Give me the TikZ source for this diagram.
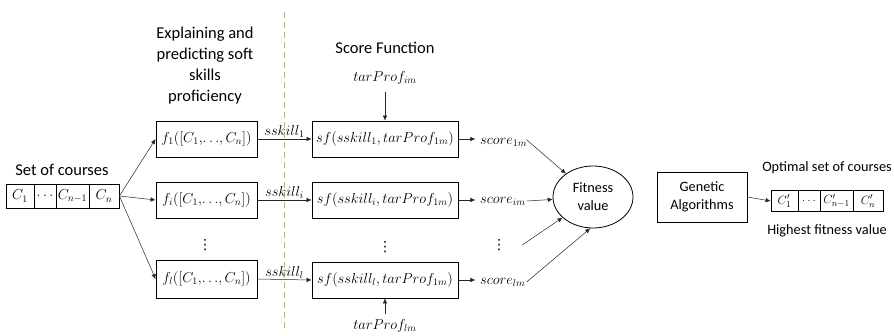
\documentclass[tikz,border=0pt]{standalone}
\usepackage{fontspec}
\setmainfont{Carlito}
\newfontfamily\djv{DejaVu Sans}
\usetikzlibrary{shapes.geometric,arrows.meta}
\begin{document}
\begin{tikzpicture}[x=1pt,y=-1pt,
  lbl/.style={font=\fontsize{16.5}{21}\selectfont, align=center, inner sep=0pt},
  slbl/.style={font=\fontsize{14.3}{18}\selectfont, align=center, inner sep=0pt},
  mth/.style={font=\fontsize{14.5}{16}\selectfont, inner sep=1pt},
  vd/.style={font=\djv\fontsize{14}{16}\selectfont, inner sep=0pt},
  box/.style={draw, line width=0.8pt, minimum height=36pt, inner sep=0pt, font=\fontsize{14}{16}\selectfont},
  cell/.style={draw, line width=0.8pt, minimum height=24pt, inner sep=0pt, font=\fontsize{14}{15}\selectfont},
  ocell/.style={draw, line width=0.8pt, minimum height=21pt, inner sep=0pt, font=\fontsize{13}{14}\selectfont},
  arr/.style={-{Latex[length=5pt,width=4.5pt]}, line width=0.5pt, draw=black!85},
]
\useasboundingbox (0,0) rectangle (894,335);
% set of courses
\node[lbl] (soc) at (62,170) {Set of courses};
\node[cell, minimum width=28pt] (c1) at (20,196) {$C_1$};
\node[cell, minimum width=22pt] (c2) at (45,196) {$\ldots$};
\node[cell, minimum width=33pt] (c3) at (72.5,196) {$C_{n-1}$};
\node[cell, minimum width=30pt] (c4) at (104,196) {$C_n$};
% title
\node[lbl] (t1) at (205,66) {Explaining and\\predicting soft\\skills\\proficiency};
% f boxes
\node[box, minimum width=101pt] (f1) at (206.5,139) {$f_1([C_1,\!\ldots\!,C_n])$};
\node[box, minimum width=101pt] (fi) at (206.5,200) {$f_i([C_1,\!\ldots\!,C_n])$};
\node[box, minimum width=101pt, minimum height=38pt] (fl) at (206.5,279) {$f_l([C_1,\!\ldots\!,C_n])$};
\node[vd] (fdots) at (205,245) {⋮};
% green divider
\coordinate (g1) at (284,12);
\coordinate (g2) at (284,330);
\draw[draw={rgb,255:red,146;green,208;blue,80}, line width=1pt, dash pattern=on 6pt off 4pt] (g1) -- (g2);
% score function
\node[lbl] (sft) at (385,48) {Score Function};
\node[mth] (tp1) at (385,78) {$tarProf_{im}$};
\node[box, minimum width=146pt] (s1) at (385,139) {$sf(sskill_1,tarProf_{1m})$};
\node[box, minimum width=146pt] (si) at (385,200) {$sf(sskill_i,tarProf_{1m})$};
\node[box, minimum width=146pt] (sl) at (385,280) {$sf(sskill_l,tarProf_{1m})$};
\node[vd] (sdots) at (385,247) {⋮};
\node[mth] (tpl) at (385,326) {$tarProf_{lm}$};
% scores
\node[mth, anchor=west] (sc1) at (479,142) {$score_{1m}$};
\node[mth, anchor=west] (sci) at (479,201) {$score_{im}$};
\node[vd] (scd) at (499,245) {⋮};
\node[mth, anchor=west] (scl) at (479,282) {$score_{lm}$};
% fitness
\node[draw, ellipse, line width=0.8pt, minimum width=80pt, minimum height=62pt, slbl, inner sep=0pt] (fit) at (593,197) {Fitness\\value};
% GA
\node[draw, line width=0.8pt, minimum width=90pt, minimum height=50pt, slbl] (ga) at (702,197) {Genetic\\Algorithms};
\node[ocell, minimum width=27pt] (o1) at (784.5,201) {$C'_1$};
\node[ocell, minimum width=22pt] (o2) at (809,201) {$\ldots$};
\node[ocell, minimum width=33pt] (o3) at (836.5,201) {$C'_{n-1}$};
\node[ocell, minimum width=30pt] (o4) at (868,201) {$C'_n$};
\node[slbl] (opt) at (827,168) {Optimal set of courses};
\node[slbl] (hfv) at (827,231) {Highest fitness value};
% arrows
\draw[arr] (c4.east) -- (f1.west);
\draw[arr] (c4.east) -- (fi.west);
\draw[arr] (c4.east) -- (fl.west);
\draw[arr] (f1.east) -- node[mth, above] {$sskill_1$} (s1.west);
\draw[arr] (fi.east) -- node[mth, above] {$sskill_i$} (si.west);
\draw[arr] (fl.east) -- node[mth, above] {$sskill_l$} (sl.west);
\draw[arr] (tp1.south) ++(0,6) -- (s1.north);
\draw[arr] (tpl.north) ++(0,-4) -- (sl.south);
\draw[arr] (s1.east) -- ++(17,0);
\draw[arr] (si.east) -- ++(17,0);
\draw[arr] (sl.east) -- ++(17,0);
\draw[arr] (sc1.north east) ++(-2,3) -- (fit);
\draw[arr] (sci.east) -- (fit);
\draw[arr] (scd.east) ++(16,0) -- (fit);
\draw[arr] (scl.east) -- (fit.-95);
\draw[arr] (ga.east) -- (o1.west);
\end{tikzpicture}
\end{document}
